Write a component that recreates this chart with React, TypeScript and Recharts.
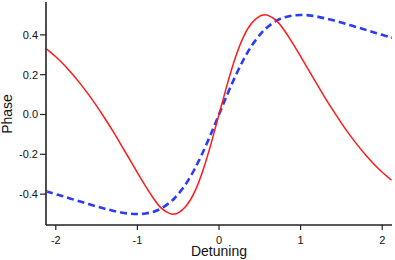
import React from 'react';
import { LineChart, Line, XAxis, YAxis } from 'recharts';

const detuning = [-2.12, -2.1, -2.0, -1.9, -1.8, -1.7, -1.6, -1.5, -1.4, -1.3, -1.2, -1.1, -1.0, -0.9, -0.8, -0.7, -0.6, -0.55, -0.5, -0.4, -0.3, -0.2, -0.1, 0, 0.1, 0.2, 0.3, 0.4, 0.5, 0.55, 0.6, 0.7, 0.8, 0.9, 1.0, 1.1, 1.2, 1.3, 1.4, 1.5, 1.6, 1.7, 1.8, 1.9, 2.0, 2.1, 2.12];

const redPhase = [0.332, 0.325, 0.29, 0.25, 0.205, 0.155, 0.101, 0.043, -0.019, -0.084, -0.152, -0.222, -0.292, -0.36, -0.423, -0.473, -0.498, -0.5, -0.494, -0.458, -0.39, -0.285, -0.15, 0, 0.15, 0.285, 0.39, 0.458, 0.494, 0.5, 0.498, 0.473, 0.423, 0.36, 0.292, 0.222, 0.152, 0.084, 0.019, -0.043, -0.101, -0.155, -0.205, -0.25, -0.29, -0.325, -0.332];

const bluePhase = [-0.386, -0.388, -0.4, -0.412, -0.425, -0.437, -0.449, -0.462, -0.473, -0.483, -0.492, -0.498, -0.5, -0.497, -0.488, -0.47, -0.441, -0.423, -0.4, -0.345, -0.275, -0.192, -0.099, 0, 0.099, 0.192, 0.275, 0.345, 0.4, 0.423, 0.441, 0.47, 0.488, 0.497, 0.5, 0.498, 0.492, 0.483, 0.473, 0.462, 0.449, 0.437, 0.425, 0.412, 0.4, 0.388, 0.386];

const xTicks = [-2, -1, 0, 1, 2];
const yTicks = [-0.4, -0.2, 0, 0.2, 0.4];

const data = detuning.map((d, i) => ({ x: d, red: redPhase[i], blue: bluePhase[i] }));

const FONT = '"Liberation Sans", Arial, Helvetica, sans-serif';

export default function App() {
  return (
    <div style={{ position: 'absolute', left: 0, top: 0, background: '#fff' }}>
      <LineChart
        width={395}
        height={260}
        data={data}
        margin={{ top: 2, right: 3, bottom: 0, left: 0 }}
      >
        <XAxis
          xAxisId="top"
          orientation="top"
          dataKey="x"
          type="number"
          domain={[-2.12, 2.12]}
          allowDataOverflow
          height={0}
          tick={false}
          tickLine={false}
          axisLine={{ stroke: '#666', strokeWidth: 1.5 }}
        />
        <YAxis
          yAxisId="right"
          orientation="right"
          type="number"
          domain={[-0.555, 0.565]}
          allowDataOverflow
          width={0}
          tick={false}
          tickLine={false}
          axisLine={{ stroke: '#666', strokeWidth: 1.5 }}
        />
        <XAxis
          dataKey="x"
          type="number"
          domain={[-2.12, 2.12]}
          allowDataOverflow
          ticks={xTicks}
          height={35}
          tickSize={5}
          tickMargin={6}
          interval={0}
          tick={{ fontSize: 11, fill: '#111', fontFamily: FONT }}
          tickLine={{ stroke: '#222', strokeWidth: 1.2 }}
          axisLine={{ stroke: '#222', strokeWidth: 1.6 }}
          label={{
            content: () => (
              <text x={219} y={256} textAnchor="middle" fontSize={14} fill="#111" fontFamily={FONT}>
                Detuning
              </text>
            ),
          }}
        />
        <YAxis
          type="number"
          domain={[-0.555, 0.565]}
          allowDataOverflow
          ticks={yTicks}
          width={46}
          tickSize={6}
          tickMargin={2}
          interval={0}
          tickFormatter={(v: number) => v.toFixed(1)}
          tick={{ fontSize: 11, fill: '#111', fontFamily: FONT }}
          tickLine={{ stroke: '#222', strokeWidth: 1.2 }}
          axisLine={{ stroke: '#222', strokeWidth: 1.6 }}
          label={{
            content: () => (
              <text
                x={12}
                y={114}
                textAnchor="middle"
                fontSize={14}
                fill="#111"
                fontFamily={FONT}
                transform="rotate(-90 12 114)"
              >
                Phase
              </text>
            ),
          }}
        />
        <Line
          dataKey="blue"
          type="natural"
          stroke="#2a3cf5"
          strokeWidth={2.6}
          strokeDasharray="7 4"
          dot={false}
          activeDot={false}
          isAnimationActive={false}
        />
        <Line
          dataKey="red"
          type="natural"
          stroke="#ff1a1a"
          strokeWidth={1.5}
          dot={false}
          activeDot={false}
          isAnimationActive={false}
        />
      </LineChart>
    </div>
  );
}
